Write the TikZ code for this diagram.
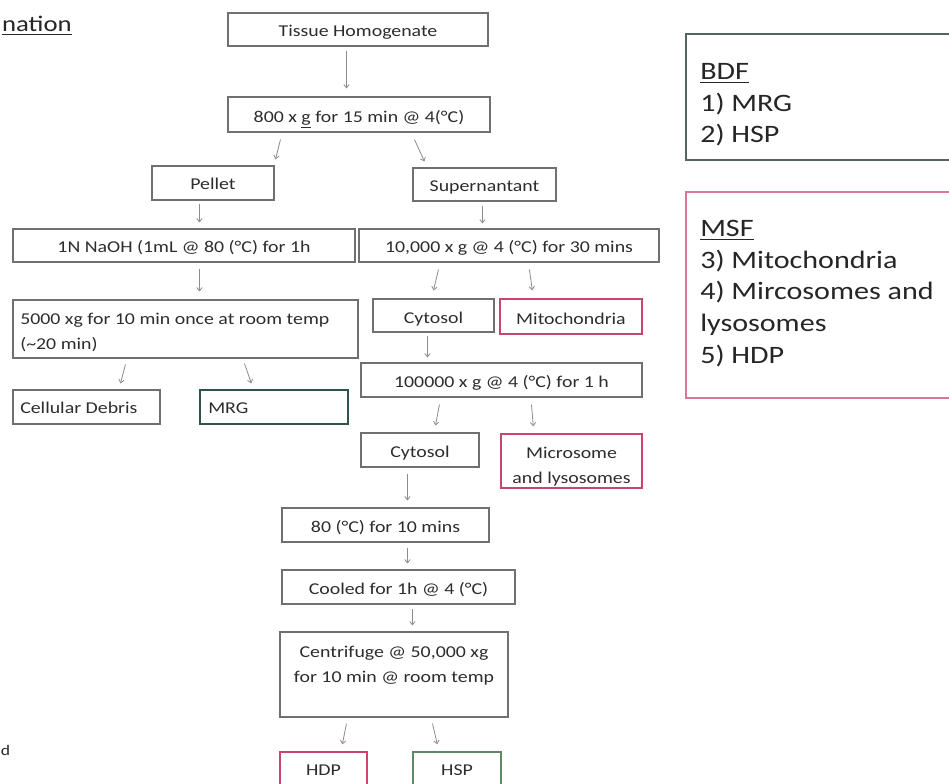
\documentclass[tikz,border=0pt]{standalone}
\usepackage{fontspec}
\setmainfont{Carlito}[FakeStretch=1.2]
\usetikzlibrary{arrows.meta,calc,fit}
\definecolor{bord}{RGB}{112,112,112}
\definecolor{txt}{RGB}{45,45,45}
\definecolor{arrc}{RGB}{140,140,140}
\definecolor{pinkb}{RGB}{200,70,110}
\definecolor{pinkl}{RGB}{215,120,150}
\definecolor{tealb}{RGB}{45,85,75}
\definecolor{greenb}{RGB}{95,135,100}
\definecolor{bdfb}{RGB}{85,100,95}
\begin{document}
\begin{tikzpicture}[x=0.75pt,y=-0.75pt,
  box/.style={draw=bord, line width=0.8pt, inner sep=0pt},
  lbl/.style={inner sep=0pt, text=txt, font=\fontsize{12.4}{18.75}\selectfont},
  clbl/.style={lbl, anchor=base},
  big/.style={inner sep=0pt, text=black!85, font=\fontsize{18.8}{23.6}\selectfont, anchor=base west},
  arr/.style={draw=arrc, line width=0.6pt, -{Straight Barb[length=2.5pt,width=4pt]}},
]
\useasboundingbox (0,0) rectangle (949,784);
\clip (0,0) rectangle (949,784);
\fill[white] (0,0) rectangle (949,784);

% title fragments
\node[inner sep=0pt, anchor=base east, text=black!85, font=\fontsize{16.7}{20}\selectfont] (title) at (72,32) {\underline{nation}};
\node[inner sep=0pt, anchor=base west, text=black!85, font=\fontsize{11}{14}\selectfont] (dfrag) at (0.5,755) {d};

% boxes
\node[box, fit={(228,13)(488,46)}] (th) {};
\node[clbl] (tht) at ($(th.center)+(0,7)$) {Tissue Homogenate};
\node[box, fit={(228,97)(490,132)}] (g800) {};
\node[clbl] (g800t) at ($(g800.center)+(0,8)$) {800 x \underline{g} for 15 min @ 4(°C)};
\node[box, fit={(152,166)(274,200)}] (pel) {};
\node[clbl] (pelt) at ($(pel.center)+(0,7)$) {Pellet};
\node[box, fit={(413,168)(556,201)}] (sup) {};
\node[clbl] (supt) at ($(sup.center)+(0,7)$) {Supernantant};
\node[box, fit={(13,229)(355,262)}] (naoh) {};
\node[clbl] (naoht) at ($(naoh.center)+(0,7)$) {1N NaOH (1mL @ 80 (°C) for 1h};
\node[box, fit={(359,229)(659,262)}] (g10k) {};
\node[clbl] (g10kt) at ($(g10k.center)+(0,7)$) {10,000 x g @ 4 (°C) for 30 mins};
\node[box, fit={(13,300)(358,358)}] (g5k) {};
\node[lbl, anchor=base west] (g5kt1) at (20,324) {5000 xg for 10 min once at room temp};
\node[lbl, anchor=base west] (g5kt2) at (20,349) {(\textasciitilde 20 min)};
\node[box, fit={(13,390)(160,424)}] (deb) {};
\node[lbl, anchor=base west] (debt) at (20,413) {Cellular Debris};
\node[box, draw=tealb, line width=1pt, fit={(200,390)(348,424)}] (mrg) {};
\node[lbl, anchor=base west] (mrgt) at (208,413) {MRG};
\node[box, fit={(373,299)(494,332)}] (cyt1) {};
\node[clbl] (cyt1t) at ($(cyt1.center)+(0,7.5)$) {Cytosol};
\node[box, draw=pinkb, line width=1pt, fit={(500,299)(642,334)}] (mito) {};
\node[clbl] (mitot) at ($(mito.center)+(0,7.5)$) {Mitochondria};
\node[box, fit={(361,363)(642,397)}] (g100k) {};
\node[clbl] (g100kt) at ($(g100k.center)+(0,7)$) {100000 x g @ 4 (°C) for 1 h};
\node[box, fit={(361,433)(479,467)}] (cyt2) {};
\node[clbl] (cyt2t) at ($(cyt2.center)+(0,7)$) {Cytosol};
\node[box, draw=pinkb, line width=1pt, fit={(501,434)(642,488)}] (micro) {};
\node[clbl] (microt1) at (571.5,458) {Microsome};
\node[clbl] (microt2) at (571.5,483) {and lysosomes};
\node[box, fit={(282,508)(489,542)}] (h80) {};
\node[clbl] (h80t) at ($(h80.center)+(0,7)$) {80 (°C) for 10 mins};
\node[box, fit={(282,570)(515,604)}] (cool) {};
\node[clbl] (coolt) at ($(cool.center)+(0,7)$) {Cooled for 1h @ 4 (°C)};
\node[box, fit={(280,632)(508,717)}] (cf) {};
\node[clbl] (cft1) at (394,657) {Centrifuge @ 50,000 xg};
\node[clbl] (cft2) at (394,682) {for 10 min @ room temp};
\node[box, draw=pinkb, line width=1pt, fit={(280,752)(367,792)}] (hdp) {};
\node[clbl] (hdpt) at (323.5,775) {HDP};
\node[box, draw=greenb, line width=1pt, fit={(413,752)(501,792)}] (hsp) {};
\node[clbl] (hspt) at (457,775) {HSP};

% legend boxes
\node[box, draw=bdfb, line width=1pt, fit={(686,34)(960,160)}] (bdf) {};
\node[big] (bdf0) at (700,80) {\underline{BDF}};
\node[big] (bdf1) at (700,111.5) {1) MRG};
\node[big] (bdf2) at (700,143) {2) HSP};
\node[box, draw=pinkl, line width=1pt, fit={(686,192)(960,398)}] (msf) {};
\node[big] (msf0) at (700,237) {\underline{MSF}};
\node[big] (msf1) at (700,268.5) {3) Mitochondria};
\node[big] (msf2) at (700,300) {4) Mircosomes and};
\node[big] (msf3) at (700,331.5) {lysosomes};
\node[big] (msf4) at (700,363) {5) HDP};

% arrows
\draw[arr] ($(th.south west)+(119,4)$) -- ($(g800.north west)+(119,-8)$);
\draw[arr] ($(g800.south west)+(53,7)$) -- ($(pel.north west)+(124,-6)$);
\draw[arr] ($(g800.south west)+(187,7)$) -- ($(sup.north west)+(12,-6)$);
\draw[arr] ($(pel.south west)+(48,3)$) -- ($(naoh.north west)+(187,-6)$);
\draw[arr] ($(sup.south west)+(70,4)$) -- ($(g10k.north west)+(124,-5)$);
\draw[arr] ($(naoh.south west)+(187,6)$) -- ($(g5k.north west)+(187,-8)$);
\draw[arr] ($(g5k.south west)+(113,6)$) -- ($(deb.north west)+(108,-6)$);
\draw[arr] ($(g5k.south west)+(232,5)$) -- ($(mrg.north west)+(52,-6)$);
\draw[arr] ($(g10k.south west)+(80,7)$) -- ($(cyt1.north west)+(61,-8)$);
\draw[arr] ($(g10k.south west)+(171,7)$) -- ($(mito.north west)+(33,-8)$);
\draw[arr] ($(cyt1.south west)+(55,3)$) -- ($(g100k.north west)+(67,-5)$);
\draw[arr] ($(g100k.south west)+(79,7)$) -- ($(cyt2.north west)+(75,-7)$);
\draw[arr] ($(g100k.south west)+(171,7)$) -- ($(micro.north west)+(33,-7)$);
\draw[arr] ($(cyt2.south west)+(47,6)$) -- ($(h80.north west)+(126,-7)$);
\draw[arr] ($(h80.south west)+(126,5)$) -- ($(cool.north west)+(126,-6)$);
\draw[arr] ($(cool.south west)+(131,4)$) -- ($(cf.north west)+(133,-6)$);
\draw[arr] ($(cf.south west)+(67,6)$) -- ($(hdp.north west)+(63,-7)$);
\draw[arr] ($(cf.south west)+(153,6)$) -- ($(hsp.north west)+(25,-7)$);
\end{tikzpicture}
\end{document}
